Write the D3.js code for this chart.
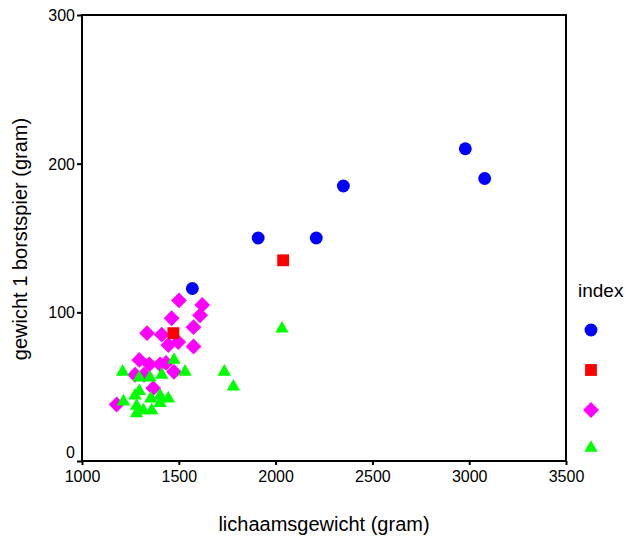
<!DOCTYPE html>
<html>
<head>
<meta charset="utf-8">
<script src="https://cdn.jsdelivr.net/npm/d3@7"></script>
<style>
  body { margin: 0; background: #fff; }
  text { font-family: "Liberation Sans", Arial, sans-serif; fill: #000; }
</style>
</head>
<body>
<div id="chart"></div>
<script>
(function(d3) {
  'use strict';

  // index 1 (blauw, cirkel)
  var x1 = [1570, 1910, 2210, 2350, 2980, 3080];
  var y1 = [116, 150, 150, 185, 210, 190];
  // index 2 (rood, vierkant)
  var x2 = [1472, 2039];
  var y2 = [86, 135];
  // index 3 (magenta, ruit)
  var x3 = [1179, 1274, 1296, 1320, 1336, 1348, 1368, 1403, 1412, 1434, 1446, 1463, 1475, 1497, 1501, 1576, 1576, 1610, 1621];
  var y3 = [38, 58, 68, 58, 86, 65, 49, 65, 85, 66, 78, 96, 60, 80, 108, 90, 77, 98, 105];
  // index 4 (groen, driehoek)
  var x4 = [1210, 1214, 1274, 1282, 1282, 1296, 1296, 1317, 1351, 1355, 1360, 1403, 1403, 1412, 1446, 1475, 1532, 1735, 1782, 2033];
  var y4 = [60, 40, 44, 37, 32, 56, 47, 34, 56, 42, 34, 44, 39, 58, 42, 68, 60, 60, 50, 89];

  var xTicks = [1000, 1500, 2000, 2500, 3000, 3500];
  var yTicks = [0, 100, 200, 300];
  var legendLabel = 'index';

  var width = 626;
  var height = 537;
  var left = 82, right = 566, top = 15, bottom = 461;

  var svg = d3.select('#chart')
    .append('svg')
    .attr('width', width)
    .attr('height', height);

  var x = d3.scaleLinear().domain([1000, 3500]).range([left, right]);
  var y = d3.scaleLinear().domain([0, 300]).range([bottom, top]);

  var series = [
    { xs: x1, ys: y1, color: '#0000ff', type: d3.symbolCircle, size: 130, rot: 0 },
    { xs: x2, ys: y2, color: '#ff0000', type: d3.symbolSquare, size: 140, rot: 0 },
    { xs: x3, ys: y3, color: '#ff00ff', type: d3.symbolSquare, size: 125, rot: 45 },
    { xs: x4, ys: y4, color: '#00ff00', type: d3.symbolTriangle, size: 78, rot: 0 }
  ];

  // box
  svg.append('rect')
    .attr('x', left).attr('y', top)
    .attr('width', right - left).attr('height', bottom - top)
    .attr('fill', 'none').attr('stroke', '#000').attr('stroke-width', 2);

  var xAxis = svg.append('g')
    .attr('transform', 'translate(0,' + bottom + ')')
    .call(d3.axisBottom(x).tickValues(xTicks).tickSize(4).tickFormat(d3.format('d')));
  var yAxis = svg.append('g')
    .attr('transform', 'translate(' + left + ',0)')
    .call(d3.axisLeft(y).tickValues(yTicks).tickSize(5).tickFormat(d3.format('d')));

  [xAxis, yAxis].forEach(function(a) {
    a.select('.domain').remove();
    a.selectAll('line').attr('stroke', '#000').attr('stroke-width', 2);
    a.selectAll('text').style('font-size', '16px').style('font-family', '"Liberation Sans", Arial, sans-serif');
  });
  xAxis.selectAll('text').attr('dy', '0.85em');
  yAxis.selectAll('text').attr('x', -7)
    .attr('dy', function(d) { return d === 0 ? '-0.2em' : '0.35em'; });

  // points: draw index 3 and 4 first, then 1 and 2
  [2, 3, 0, 1].forEach(function(k) {
    var s = series[k];
    var sym = d3.symbol().type(s.type).size(s.size);
    svg.append('g').selectAll('path')
      .data(s.xs.map(function(v, i) { return [v, s.ys[i]]; }))
      .enter()
      .append('path')
      .attr('d', sym)
      .attr('fill', s.color)
      .attr('transform', function(d) {
        return 'translate(' + x(d[0]) + ',' + y(d[1]) + ') rotate(' + s.rot + ')';
      });
  });

  // axis titles
  svg.append('text')
    .attr('x', (left + right) / 2)
    .attr('y', 531)
    .attr('text-anchor', 'middle')
    .style('font-size', '20px')
    .text('lichaamsgewicht (gram)');

  svg.append('text')
    .attr('transform', 'translate(27,' + 239 + ') rotate(-90)')
    .attr('text-anchor', 'middle')
    .style('font-size', '20px')
    .text('gewicht 1 borstspier (gram)');

  // legend
  var legend = svg.append('g').attr('transform', 'translate(591,0)');
  legend.append('text')
    .attr('x', -13).attr('y', 297)
    .style('font-size', '19px')
    .text(legendLabel);
  var legendY = [330, 370, 410, 448];
  series.forEach(function(s, i) {
    var sym = d3.symbol().type(s.type).size(s.size);
    legend.append('path')
      .attr('d', sym)
      .attr('fill', s.color)
      .attr('transform', 'translate(0,' + legendY[i] + ') rotate(' + s.rot + ')');
  });

})(window.d3);
</script>
</body>
</html>
